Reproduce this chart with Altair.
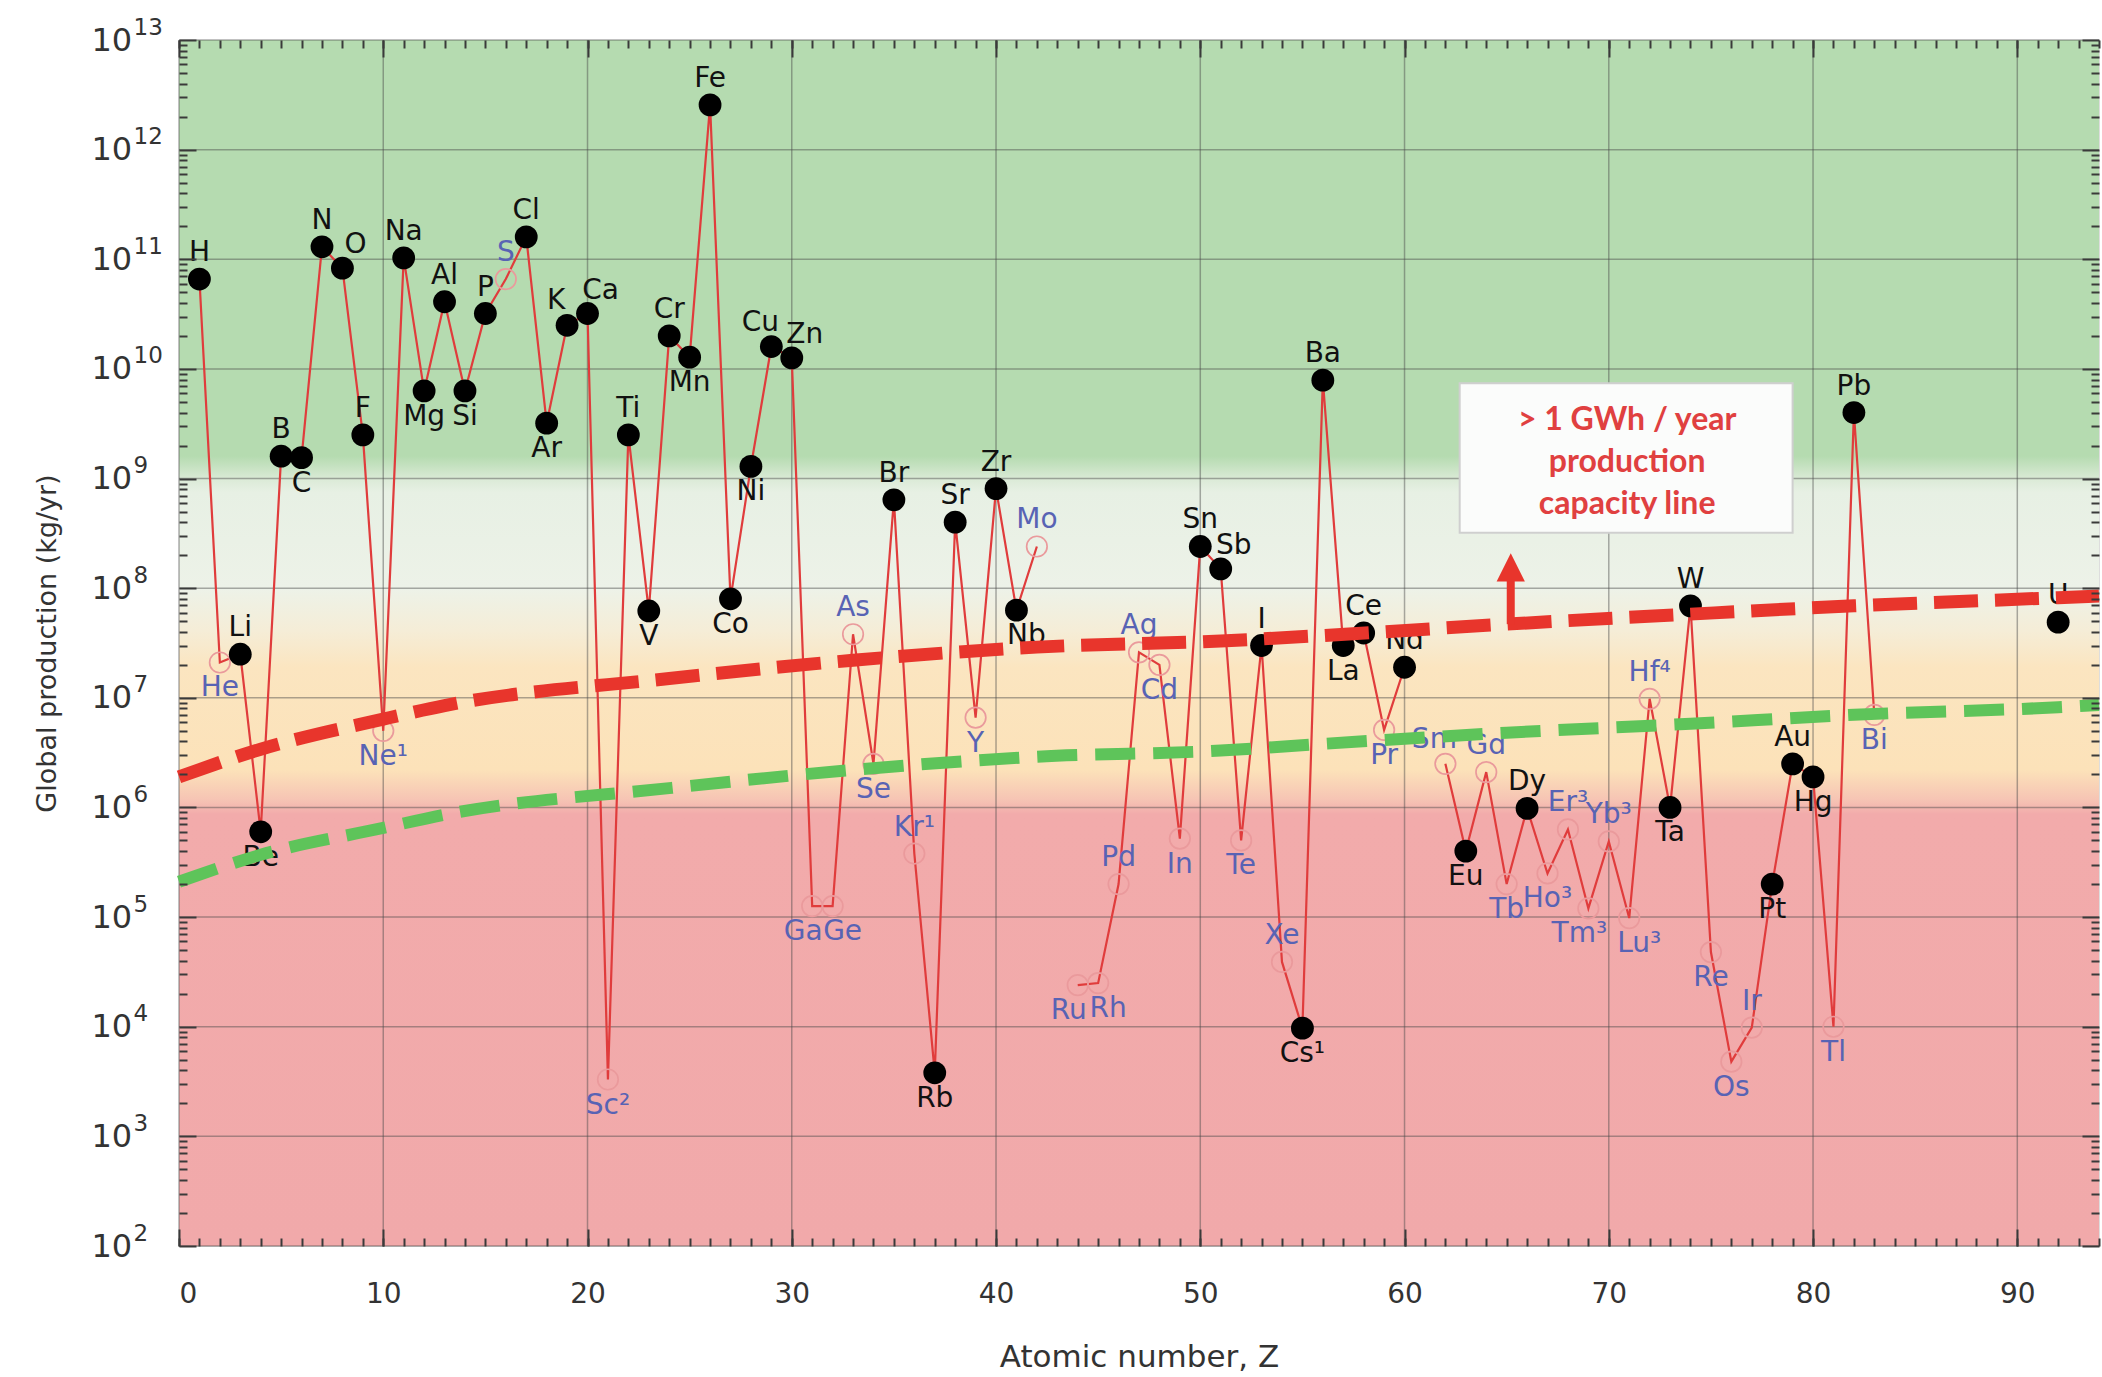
import altair as alt
import pandas as pd

# ------------------------------------------------------------------ data
atomic_number = [1, 2, 3, 4, 5, 6, 7, 8, 9, 10, 11, 12, 13, 14, 15, 16, 17, 18, 19, 20,
                 21, 22, 23, 24, 25, 26, 27, 28, 29, 30, 31, 32, 33, 34, 35, 36, 37, 38, 39, 40,
                 41, 42, 44, 45, 46, 47, 48, 49, 50, 51, 52, 53, 54, 55, 56, 57, 58, 59, 60,
                 62, 63, 64, 65, 66, 67, 68, 69, 70, 71, 72, 73, 74, 75, 76, 77, 78, 79, 80,
                 81, 82, 83, 92]
label_text = ["H", "He", "Li", "Be", "B", "C", "N", "O", "F", "Ne¹", "Na", "Mg", "Al", "Si", "P", "S",
              "Cl", "Ar", "K", "Ca", "Sc²", "Ti", "V", "Cr", "Mn", "Fe", "Co", "Ni", "Cu", "Zn",
              "Ga", "Ge", "As", "Se", "Br", "Kr¹", "Rb", "Sr", "Y", "Zr", "Nb", "Mo",
              "Ru", "Rh", "Pd", "Ag", "Cd", "In", "Sn", "Sb", "Te", "I", "Xe", "Cs¹", "Ba", "La",
              "Ce", "Pr", "Nd", "Sm", "Eu", "Gd", "Tb", "Dy", "Ho³", "Er³", "Tm³", "Yb³", "Lu³",
              "Hf⁴", "Ta", "W", "Re", "Os", "Ir", "Pt", "Au", "Hg", "Tl", "Pb", "Bi", "U"]
production = [6.6e10, 2.1e7, 2.5e7, 6.0e5, 1.6e9, 1.55e9, 1.3e11, 8.3e10, 2.5e9, 5.0e6,
              1.03e11, 6.3e9, 4.1e10, 6.3e9, 3.2e10, 6.6e10, 1.6e11, 3.2e9, 2.5e10, 3.2e10,
              3.3e3, 2.5e9, 6.2e7, 2.0e10, 1.28e10, 2.56e12, 8.0e7, 1.29e9, 1.6e10, 1.26e10,
              1.26e5, 1.26e5, 3.8e7, 2.5e6, 6.4e8, 3.8e5, 3.8e3, 4.0e8, 6.6e6, 8.1e8,
              6.3e7, 2.4e8, 2.4e4, 2.5e4, 2.0e5, 2.6e7, 2.0e7, 5.2e5, 2.4e8, 1.5e8,
              5.0e5, 3.0e7, 3.9e4, 9.7e3, 7.9e9, 3.0e7, 3.9e7, 5.1e6, 1.9e7,
              2.5e6, 4.0e5, 2.1e6, 2.0e5, 9.8e5, 2.5e5, 6.3e5, 1.2e5, 4.9e5, 9.8e4,
              9.8e6, 1.0e6, 6.9e7, 4.8e4, 4.8e3, 9.8e3, 2.0e5, 2.5e6, 1.9e6,
              1.0e4, 4.0e9, 7.0e6, 4.9e7]
source = ["primary", "byproduct", "primary", "primary", "primary", "primary", "primary", "primary",
          "primary", "byproduct", "primary", "primary", "primary", "primary", "primary", "byproduct",
          "primary", "primary", "primary", "primary", "byproduct", "primary", "primary", "primary",
          "primary", "primary", "primary", "primary", "primary", "primary", "byproduct", "byproduct",
          "byproduct", "byproduct", "primary", "byproduct", "primary", "primary", "byproduct", "primary",
          "primary", "byproduct", "byproduct", "byproduct", "byproduct", "byproduct", "byproduct",
          "byproduct", "primary", "primary", "byproduct", "primary", "byproduct", "primary", "primary",
          "primary", "primary", "byproduct", "primary", "byproduct", "primary", "byproduct", "byproduct",
          "primary", "byproduct", "byproduct", "byproduct", "byproduct", "byproduct", "byproduct",
          "primary", "primary", "byproduct", "byproduct", "byproduct", "primary", "primary", "primary",
          "byproduct", "primary", "byproduct", "primary"]
label_side = ["a", "b", "a", "b", "a", "b", "a", "ar", "a", "b", "a", "b", "a", "b", "a", "a",
              "a", "b", "al", "ar", "b", "a", "b", "a", "b", "a", "b", "b", "al", "ar",
              "bl", "br", "a", "b", "a", "a", "b", "a", "b", "a", "br", "a",
              "bl", "br", "a", "a", "b", "b", "a", "ar", "b", "a", "a", "b", "a", "b",
              "a", "b", "a", "al", "b", "a", "b", "a", "b", "a", "bl", "a", "br",
              "a", "b", "a", "b", "b", "a", "b", "a", "b", "b", "a", "b", "a"]

# 1 GWh/yr production-capacity line (red) and the lower green line
capacity_z = [0, 4, 10, 13, 24, 33, 42, 51, 56, 65, 74, 82, 92, 94]
gwh_line = [1.9e6, 3.4e6, 6.4e6, 8.5e6, 1.5e7, 2.2e7, 2.9e7, 3.3e7, 3.7e7, 4.7e7, 5.8e7, 6.9e7, 8.2e7, 8.5e7]
green_line = [2.1e5, 3.7e5, 6.5e5, 8.6e5, 1.5e6, 2.2e6, 2.9e6, 3.3e6, 3.8e6, 4.8e6, 5.8e6, 7.0e6, 8.2e6, 8.6e6]

# annotation
box_z = [62.7, 79.0]
box_p = [3.2e8, 7.4e9]
box_text_z = 70.9
box_text_p = 3.4e9
box_lines = "> 1 GWh / year\nproduction\ncapacity line"
arrow_z = 65.2
arrow_from = 4.7e7
arrow_to = 1.2e8
arrow_head = 1.55e8

# axes / grid
x_ticks = [0, 10, 20, 30, 40, 50, 60, 70, 80, 90]
y_decades = [1e2, 1e3, 1e4, 1e5, 1e6, 1e7, 1e8, 1e9, 1e10, 1e11, 1e12, 1e13]
x_minor = list(range(0, 95))
y_minor = [k * 10.0 ** e for e in range(2, 13) for k in range(2, 10)]

# ------------------------------------------------------------------ chart
W, H = 1920, 1206
FONT = "DejaVu Sans"

df = pd.DataFrame({"Z": atomic_number, "label": label_text, "P": production,
                   "source": source, "side": label_side})
cap_df = pd.DataFrame({"Z": capacity_z, "red": gwh_line, "green": green_line})

xs = alt.Scale(domain=[0, 94], nice=False, zero=False)
ys = alt.Scale(type="log", domain=[1e2, 1e13], nice=False)

gradient = alt.LinearGradient(
    gradient="linear", x1=0, x2=0, y1=0, y2=1,
    stops=[
        alt.GradientStop(offset=0.0, color="#b5dbb0"),
        alt.GradientStop(offset=0.345, color="#b5dbb0"),
        alt.GradientStop(offset=0.365, color="#dcebd8"),
        alt.GradientStop(offset=0.375, color="#e7f0e4"),
        alt.GradientStop(offset=0.455, color="#edf2e8"),
        alt.GradientStop(offset=0.49, color="#f5edd7"),
        alt.GradientStop(offset=0.52, color="#fbe5c0"),
        alt.GradientStop(offset=0.605, color="#fce2b9"),
        alt.GradientStop(offset=0.630, color="#f6c4b4"),
        alt.GradientStop(offset=0.642, color="#f2abab"),
        alt.GradientStop(offset=1.0, color="#f1a9aa"),
    ],
)

bg_df = pd.DataFrame({"z0": [0], "z1": [94], "p0": [1e2], "p1": [1e13]})
bg = alt.Chart(bg_df).mark_rect(fill=gradient).encode(
    x=alt.X("z0:Q", scale=xs, axis=None), x2="z1:Q",
    y=alt.Y("p1:Q", scale=ys, axis=None), y2="p0:Q")

grid_x = alt.Chart(pd.DataFrame({"g": x_ticks})).mark_rule(
    color="#4a4a4a", opacity=0.45, strokeWidth=1.5).encode(
    x=alt.X("g:Q", scale=xs, axis=None))
grid_y = alt.Chart(pd.DataFrame({"g": y_decades})).mark_rule(
    color="#4a4a4a", opacity=0.45, strokeWidth=1.5).encode(
    y=alt.Y("g:Q", scale=ys, axis=None))

main_x = alt.Axis(values=x_ticks, grid=False, ticks=False, domain=False,
                  labelFont=FONT, labelFontSize=28, labelColor="#333333", labelPadding=34,
                  title="Atomic number, Z", titleFont=FONT, titleFontSize=31,
                  titleFontWeight="normal", titleColor="#333333", titlePadding=34)
main_y = alt.Axis(values=y_decades, grid=False, ticks=False, domain=False,
                  labelExpr="'10'", labelFont=FONT, labelFontSize=32,
                  labelColor="#333333", labelPadding=88, labelAlign="left",
                  title="Global production (kg/yr)", titleFont=FONT, titleFontSize=27,
                  titleFontWeight="normal", titleColor="#333333", titlePadding=30)
# exponents of the decade labels, raised like superscripts
exp_y = alt.Axis(orient="left", values=y_decades, grid=False, ticks=False, domain=False,
                 labelExpr="format(round(log(datum.value) / LN10), 'd')",
                 labelFont=FONT, labelFontSize=23, labelColor="#333333",
                 labelPadding=46, labelAlign="left", labelOffset=-13, title=None, zindex=1)

line = alt.Chart(df).transform_calculate(
    seg="datum.Z < 43 ? 0 : (datum.Z < 61 ? 1 : (datum.Z < 84 ? 2 : 3))"
).mark_line(color="#e03c3c", strokeWidth=2.2).encode(
    x=alt.X("Z:Q", scale=xs, axis=main_x),
    y=alt.Y("P:Q", scale=ys, axis=main_y),
    detail="seg:N", order="Z:Q")

ex = alt.X("Z:Q", scale=xs, axis=None)
ey = alt.Y("P:Q", scale=ys, axis=None)

open_pts = alt.Chart(df).transform_filter("datum.source == 'byproduct'").mark_point(
    filled=False, size=420, color="#ea9a9c", strokeWidth=1.7, opacity=1).encode(x=ex, y=ey)
filled_pts = alt.Chart(df).transform_filter("datum.source == 'primary'").mark_point(
    filled=True, size=520, color="#000000", opacity=1).encode(x=ex, y=ey)

offsets = {"a": (0, -26), "b": (0, 26), "al": (-11, -24), "ar": (13, -23),
           "bl": (-9, 26), "br": (10, 26)}
label_layers = []
for side, (ddx, ddy) in offsets.items():
    label_layers.append(
        alt.Chart(df).transform_filter(f"datum.side == '{side}'").mark_text(
            dx=ddx, dy=ddy, font=FONT, fontSize=28, baseline="middle", align="center").encode(
            x=ex, y=ey, text="label:N",
            color=alt.Color("source:N", scale=alt.Scale(domain=["primary", "byproduct"],
                                                       range=["#111111", "#5863b4"]),
                            legend=None)))

green = alt.Chart(cap_df).mark_line(color="#5ec45a", strokeWidth=12, strokeDash=[40, 18],
                                    interpolate="monotone").encode(
    x=alt.X("Z:Q", scale=xs, axis=None), y=alt.Y("green:Q", scale=ys, axis=None))
red = alt.Chart(cap_df).mark_line(color="#e8352c", strokeWidth=13, strokeDash=[44, 17],
                                  interpolate="monotone").encode(
    x=alt.X("Z:Q", scale=xs, axis=None), y=alt.Y("red:Q", scale=ys, axis=None))

arrow_df = pd.DataFrame({"z": [arrow_z], "p0": [arrow_from], "p1": [arrow_to], "ph": [arrow_head]})
shaft = alt.Chart(arrow_df).mark_rule(color="#e8352c", strokeWidth=8).encode(
    x=alt.X("z:Q", scale=xs, axis=None), y=alt.Y("p0:Q", scale=ys, axis=None), y2="p1:Q")
head = alt.Chart(arrow_df).mark_point(shape="M0,-1L1,1L-1,1Z", filled=True, size=800,
                                      color="#e8352c", opacity=1).encode(
    x=alt.X("z:Q", scale=xs, axis=None), y=alt.Y("ph:Q", scale=ys, axis=None))

box_df = pd.DataFrame({"z0": [box_z[0]], "z1": [box_z[1]], "p0": [box_p[0]], "p1": [box_p[1]],
                       "tz": [box_text_z], "tp": [box_text_p], "t": [box_lines]})
box = alt.Chart(box_df).mark_rect(fill="#fbfcfb", stroke="#cfcfcf", strokeWidth=2).encode(
    x=alt.X("z0:Q", scale=xs, axis=None), x2="z1:Q",
    y=alt.Y("p1:Q", scale=ys, axis=None), y2="p0:Q")
box_text = alt.Chart(box_df).mark_text(font="Lato", fontWeight="bold", fontSize=32,
                                       color="#e04040", lineBreak="\n", lineHeight=42,
                                       align="center", baseline="middle").encode(
    x=alt.X("tz:Q", scale=xs, axis=None), y=alt.Y("tp:Q", scale=ys, axis=None), text="t:N")


def tick_axis(orient, offset, values, size):
    return alt.Axis(orient=orient, offset=offset, values=values, labels=False, grid=False,
                    domain=False, ticks=True, tickSize=size, tickColor="#3a3a3a",
                    tickWidth=2, title=None, zindex=1)


carriers = []
for (xo, yo, xv, yv, size) in [
    ("top", "right", x_minor, y_minor, 8),
    ("top", "right", x_ticks, y_decades, 17),
    ("bottom", "left", x_minor, y_minor, 8),
    ("bottom", "left", x_ticks, y_decades, 17),
]:
    carriers.append(
        alt.Chart(df).mark_point(opacity=0).encode(
            x=alt.X("Z:Q", scale=xs, axis=tick_axis(xo, -H, xv, size)),
            y=alt.Y("P:Q", scale=ys, axis=tick_axis(yo, -W, yv, size))))

exp_layer = alt.Chart(df).mark_point(opacity=0).encode(
    x=alt.X("Z:Q", scale=xs, axis=None),
    y=alt.Y("P:Q", scale=ys, axis=exp_y))

chart = alt.layer(
    bg, grid_x, grid_y, line, open_pts, filled_pts, *label_layers,
    green, red, shaft, head, box, box_text, *carriers, exp_layer
).resolve_axis(x="independent", y="independent").properties(
    width=W, height=H,
    padding={"left": 179, "top": 40, "right": 3, "bottom": 131},
    autosize=alt.AutoSizeParams(type="none"),
).configure_view(stroke="#6b6b6b", strokeWidth=2).configure(font=FONT)

chart.save("out.html", embed_options={"renderer": "svg", "actions": False})
